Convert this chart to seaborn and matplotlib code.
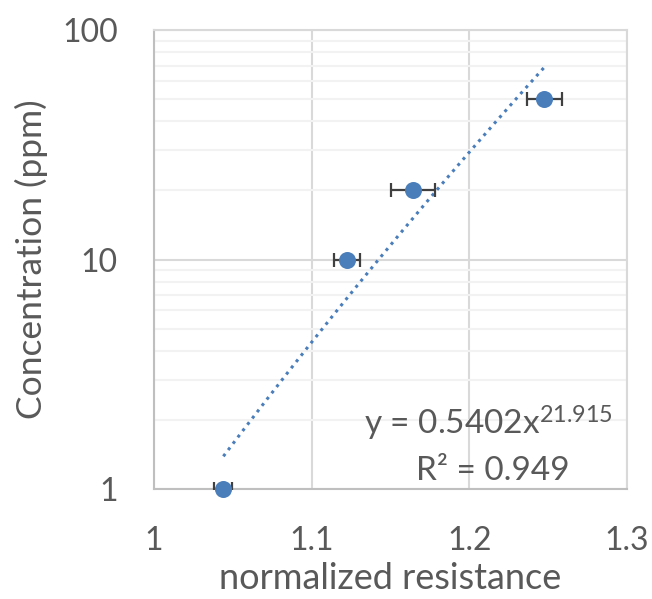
import numpy as np
import pandas as pd
import matplotlib
matplotlib.use("Agg")
import matplotlib.pyplot as plt
import seaborn as sns
from matplotlib.ticker import LogLocator, NullFormatter, FixedLocator

# ---- data ----
resistance = [1.044, 1.1225, 1.1645, 1.2476]
concentration = [1, 10, 20, 50]
resistance_err = [0.0057, 0.0083, 0.014, 0.011]
fit_coef = 0.5402
fit_exp = 21.915
r_squared = 0.949
x_ticks = [1.0, 1.1, 1.2, 1.3]
x_tick_labels = ["1", "1.1", "1.2", "1.3"]
y_ticks = [1, 10, 100]
y_tick_labels = ["1", "10", "100"]

sns.set_style("white")
plt.rcParams["font.family"] = ["Lato", "DejaVu Sans"]
plt.rcParams["mathtext.fontset"] = "custom"
plt.rcParams["mathtext.rm"] = "Lato"
plt.rcParams["mathtext.it"] = "Lato:italic"

TEXT = "#595959"
BLUE = "#4a7ebb"

fig = plt.figure(figsize=(6.52, 5.99), dpi=100)
ax = fig.add_axes([154 / 652, 1 - 489 / 599, (627 - 154) / 652, (489 - 30) / 599])

df = pd.DataFrame({"x": resistance, "y": concentration, "xerr": resistance_err})

# trendline from the displayed power-law fit
xs = np.linspace(min(resistance), max(resistance), 200)
trend = pd.DataFrame({"x": xs, "y": fit_coef * xs ** fit_exp})
sns.lineplot(data=trend, x="x", y="y", ax=ax, color=BLUE, lw=2.2,
             linestyle=(0, (1, 1.6)), zorder=2)

ax.errorbar(df["x"], df["y"], xerr=df["xerr"], fmt="none", ecolor="#404040",
            elinewidth=1.6, capsize=5, capthick=1.6, zorder=3)
sns.scatterplot(data=df, x="x", y="y", ax=ax, s=150, color=BLUE,
                edgecolor=BLUE, linewidth=0, zorder=4, clip_on=False)

ax.set_yscale("log")
ax.set_xlim(1.0, 1.3)
ax.set_ylim(1, 100)
ax.xaxis.set_major_locator(FixedLocator(x_ticks))
ax.set_xticklabels(x_tick_labels)
ax.yaxis.set_major_locator(FixedLocator(y_ticks))
ax.set_yticklabels(y_tick_labels)
ax.yaxis.set_minor_locator(LogLocator(base=10, subs=np.arange(2, 10)))
ax.yaxis.set_minor_formatter(NullFormatter())

ax.set_axisbelow(True)
ax.grid(which="major", axis="both", color="#d9d9d9", lw=1.5)
ax.grid(which="minor", axis="y", color="#f2f2f2", lw=1.5)
ax.tick_params(which="both", length=0, labelsize=23, colors=TEXT)
ax.tick_params(axis="y", pad=26)
ax.tick_params(axis="x", pad=27)

for s in ["top", "right"]:
    ax.spines[s].set_color("#d9d9d9")
    ax.spines[s].set_linewidth(1.5)
for s in ["left", "bottom"]:
    ax.spines[s].set_color("#bfbfbf")
    ax.spines[s].set_linewidth(1.5)

ax.set_xlabel("normalized resistance", fontsize=26, color=TEXT, labelpad=4)
ax.set_ylabel("Concentration (ppm)", fontsize=25.5, color=TEXT, labelpad=10)

ax.text(613 / 652, 1 - 435 / 599,
        "y = %sx$^{\\mathregular{%s}}$" % (f"{fit_coef:.4f}", f"{fit_exp:.3f}"),
        transform=fig.transFigure, ha="right", va="baseline", fontsize=24, color=TEXT)
ax.text(493 / 652, 1 - 480 / 599, f"R² = {r_squared:.3f}",
        transform=fig.transFigure, ha="center", va="baseline", fontsize=24, color=TEXT)

fig.savefig("out.png", dpi=100)
